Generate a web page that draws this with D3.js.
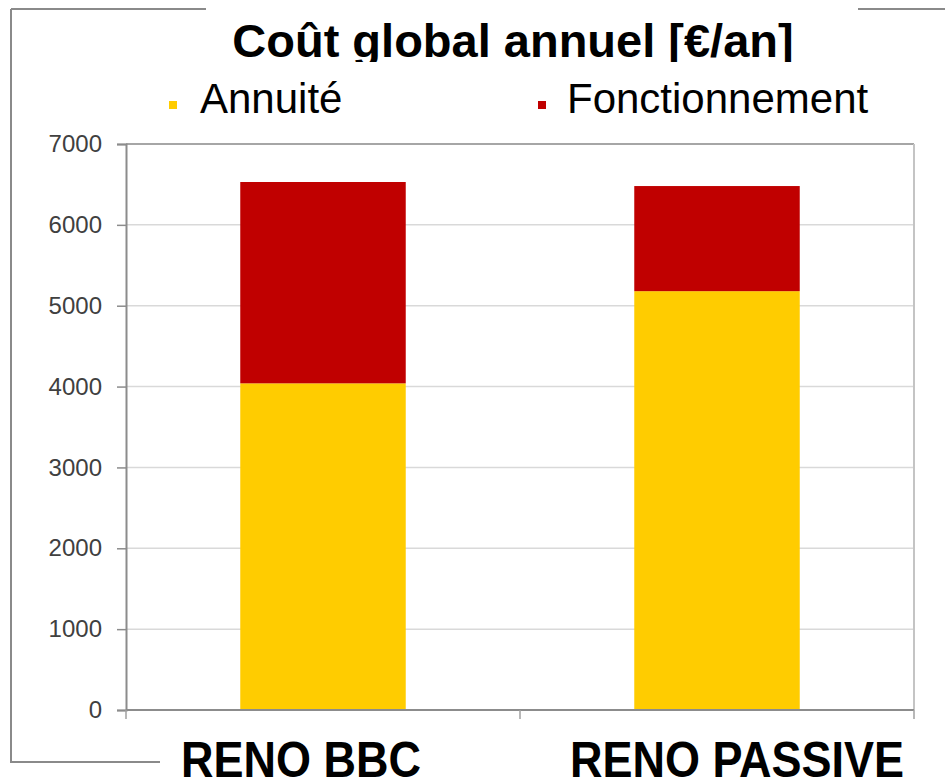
<!DOCTYPE html>
<html>
<head>
<meta charset="utf-8">
<script src="https://cdn.jsdelivr.net/npm/d3@7/dist/d3.min.js"></script>
<style>
  html, body { margin: 0; padding: 0; background: #fff; }
  svg { display: block; }
</style>
</head>
<body>
<svg id="chart" width="945" height="783"></svg>
<script>
// Annual global cost per renovation scenario, stacked: annuity + operation
const categories = ["RENO BBC", "RENO PASSIVE"];
const seriesNames = ["Annuité", "Fonctionnement"];
const annuite = [4040, 5180];
const fonctionnement = [2490, 1300];
const yTicks = [0, 1000, 2000, 3000, 4000, 5000, 6000, 7000];
const colors = ["#FFCC00", "#C00000"];

const svg = d3.select("#chart");
const plot = { left: 126, right: 914, top: 144, bottom: 710 };

const x = d3.scaleBand()
  .domain(categories)
  .range([plot.left, plot.right])
  .paddingInner(0.58)
  .paddingOuter(0.29);

const y = d3.scaleLinear()
  .domain([0, 7000])
  .range([plot.bottom, plot.top]);

// outer frame (partially hidden behind title and category labels)
svg.append("path")
  .attr("d", "M11,9 L945,9 M11,9 L11,762 L160,762")
  .attr("fill", "none")
  .attr("stroke", "#8a8a8a")
  .attr("stroke-width", 2);

// horizontal gridlines
svg.append("g")
  .selectAll("line")
  .data(yTicks.filter(d => d > 0 && d < 7000))
  .join("line")
  .attr("x1", plot.left)
  .attr("x2", plot.right)
  .attr("y1", d => y(d))
  .attr("y2", d => y(d))
  .attr("stroke", "#d9d9d9")
  .attr("stroke-width", 1.5);

// plot area border: top and right
svg.append("line")
  .attr("x1", plot.left).attr("x2", plot.right)
  .attr("y1", y(7000)).attr("y2", y(7000))
  .attr("stroke", "#a6a6a6").attr("stroke-width", 2);
svg.append("line")
  .attr("x1", plot.right).attr("x2", plot.right)
  .attr("y1", plot.top).attr("y2", plot.bottom)
  .attr("stroke", "#c4c4c4").attr("stroke-width", 2);

// stacked bars
const stackData = categories.map((c, i) => ({ cat: c, "Annuité": annuite[i], "Fonctionnement": fonctionnement[i] }));
const stacked = d3.stack().keys(seriesNames)(stackData);

svg.append("g")
  .selectAll("g")
  .data(stacked)
  .join("g")
  .attr("fill", (d, i) => colors[i])
  .selectAll("rect")
  .data(d => d)
  .join("rect")
  .attr("x", d => x(d.data.cat))
  .attr("width", x.bandwidth())
  .attr("y", d => y(d[1]))
  .attr("height", d => y(d[0]) - y(d[1]));

// value axis
const yAxis = svg.append("g")
  .attr("transform", `translate(${plot.left},0)`)
  .call(d3.axisLeft(y).tickValues(yTicks).tickSize(9).tickPadding(15).tickFormat(d3.format("d")));
yAxis.select(".domain").attr("stroke", "#8c8c8c").attr("stroke-width", 2);
yAxis.selectAll(".tick line").attr("stroke", "#8c8c8c").attr("stroke-width", 1.5);
yAxis.selectAll(".tick text")
  .attr("fill", "#404040")
  .style("font-family", "Arial, 'Liberation Sans', sans-serif")
  .style("font-size", "24px");

// category axis line and boundary ticks
svg.append("line")
  .attr("x1", plot.left).attr("x2", plot.right)
  .attr("y1", plot.bottom).attr("y2", plot.bottom)
  .attr("stroke", "#8c8c8c").attr("stroke-width", 2);
const boundaries = [plot.left, ...categories.slice(1).map(c => x(c) - x.step() * x.paddingInner() / 2), plot.right];
svg.append("g")
  .selectAll("line")
  .data(boundaries)
  .join("line")
  .attr("x1", d => d).attr("x2", d => d)
  .attr("y1", plot.bottom).attr("y2", plot.bottom + 9)
  .attr("stroke", "#a0a0a0").attr("stroke-width", 1.5);

// category labels (slightly tall lettering)
const labelX = [301, 737];
svg.append("rect")
  .attr("x", 160).attr("y", 728).attr("width", 785).attr("height", 55)
  .attr("fill", "#fff");
svg.append("g")
  .selectAll("text")
  .data(categories)
  .join("text")
  .attr("transform", (d, i) => `translate(${labelX[i]},777) scale(1,1.1)`)
  .attr("text-anchor", "middle")
  .style("font-family", "Arial, 'Liberation Sans', sans-serif")
  .style("font-weight", "bold")
  .style("font-size", "45px")
  .attr("fill", "#000")
  .text(d => d);

// title on a white block over the frame
svg.append("rect")
  .attr("x", 206).attr("y", 0).attr("width", 652).attr("height", 62)
  .attr("fill", "#fff");
svg.append("text")
  .attr("x", 513)
  .attr("y", 57)
  .attr("text-anchor", "middle")
  .style("font-family", "Arial, 'Liberation Sans', sans-serif")
  .style("font-weight", "bold")
  .style("font-size", "47px")
  .attr("fill", "#000")
  .text("Coût global annuel [€/an]");

// legend on its own white block
svg.append("rect")
  .attr("x", 150).attr("y", 62).attr("width", 730).attr("height", 68)
  .attr("fill", "#fff");
const legendX = [173, 542];
const legendTextX = [200, 567];
const legend = svg.append("g")
  .selectAll("g")
  .data(seriesNames)
  .join("g");
legend.append("rect")
  .attr("x", (d, i) => legendX[i] - 4)
  .attr("y", 101)
  .attr("width", 8)
  .attr("height", 8)
  .attr("fill", (d, i) => colors[i]);
legend.append("text")
  .attr("x", (d, i) => legendTextX[i])
  .attr("y", 113)
  .style("font-family", "Arial, 'Liberation Sans', sans-serif")
  .style("font-size", "42px")
  .attr("fill", "#000")
  .text(d => d);
</script>
</body>
</html>
